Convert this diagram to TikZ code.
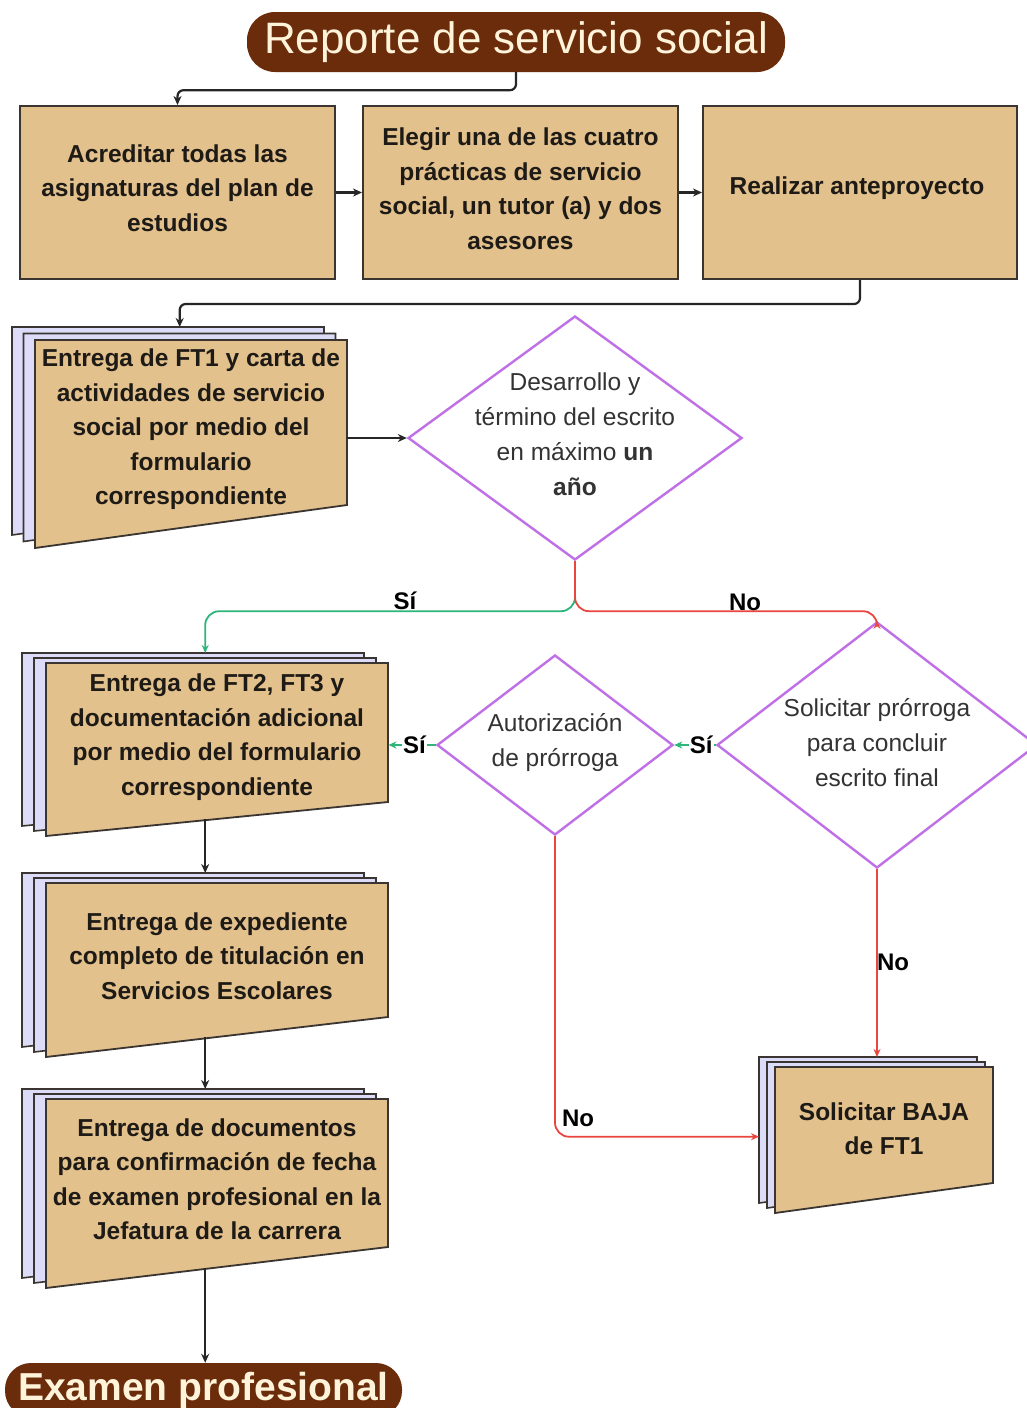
\documentclass[tikz,border=0pt]{standalone}
\usepackage{fontspec}
\setmainfont{Liberation Sans}
\usetikzlibrary{shapes.geometric,arrows.meta}
\definecolor{boxtan}{HTML}{E3C18D}
\definecolor{boxline}{HTML}{3A3530}
\definecolor{doclav}{HTML}{DCDCF8}
\definecolor{txtdark}{HTML}{1E1A16}
\definecolor{txtgray}{HTML}{333333}
\definecolor{decpurple}{HTML}{C070E6}
\definecolor{termbrown}{HTML}{6B2C0B}
\definecolor{termtext}{HTML}{FFF4DA}
\definecolor{yesgreen}{HTML}{2EB57A}
\definecolor{nored}{HTML}{E8463E}
% #1 name, #2 front x, #3 front y, #4 width, #5 height, #6 slant, #7 dx, #8 dy, #9 text
\newcommand{\mdoc}[9]{%
  \path[docback] ({#2-2*#7},{#3-2*#8}) -- ++(#4,0) -- ++(0,{#5-#6}) -- ({#2-2*#7},{#3-2*#8+#5}) -- cycle;
  \path[docback] ({#2-#7},{#3-#8}) -- ++(#4,0) -- ++(0,{#5-#6}) -- ({#2-#7},{#3-#8+#5}) -- cycle;
  \path[docfront] (#2,#3) -- ++(#4,0) -- ++(0,{#5-#6}) -- (#2,{#3+#5}) -- cycle;
  \node[doctext] (#1-t) at ({#2+#4/2},{#3+(#5-#6/2)/2-4}) {#9};
  \node[anchor=north west, inner sep=0, minimum width={(#4+2*#7)*1pt}, minimum height={(#5-#6/2+2*#8)*1pt}] (#1) at ({#2-2*#7},{#3-2*#8}) {};
}
\begin{document}
\begin{tikzpicture}[x=1pt,y=-1pt,
  box/.style={draw=boxline, fill=boxtan, line width=2pt, minimum width=315pt, minimum height=173pt, inner sep=0},
  docback/.style={draw=boxline, fill=doclav, line width=1.6pt},
  docfront/.style={draw=boxline, fill=boxtan, line width=1.8pt},
  doctext/.style={font=\bfseries\fontsize{24.5}{34.5}\selectfont, text=txtdark, align=center, inner sep=0},
  dec/.style={diamond, draw=decpurple, fill=white, line width=2.4pt, inner sep=0},
  dectext/.style={font=\fontsize{24.5}{35}\selectfont, text=txtgray, align=center, inner sep=0},
  term/.style={fill=termbrown, text=termtext, inner sep=0},
  arr/.style={line width=2.2pt, draw=black!85, -{Stealth[length=9pt,width=8pt]}},
  garr/.style={line width=1.8pt, draw=yesgreen, -{Stealth[length=8pt,width=7pt]}},
  rarr/.style={line width=1.8pt, draw=nored, -{Stealth[length=8pt,width=7pt]}},
  lbl/.style={font=\bfseries\fontsize{24}{28}\selectfont, text=black, inner sep=1pt},
]
\useasboundingbox (0,0) rectangle (1026,1408);
\fill[white] (0,0) rectangle (1026,1408);

% terminals
\node[term, minimum width=538pt, minimum height=60pt, rounded corners=28pt, font=\fontsize{44}{50}\selectfont] (title) at (516,42) {Reporte de servicio social};
\node[term, minimum width=397pt, minimum height=54pt, rounded corners=26pt, font=\bfseries\fontsize{39}{44}\selectfont] (exam) at (203.5,1390) {Examen profesional};

% row of boxes
\node[box] (box1) at (177.5,192.5) {};
\node[doctext] (box1-t) at (177.5,188) {Acreditar todas las\\asignaturas del plan de\\estudios};
\node[box] (box2) at (520.5,192.5) {};
\node[doctext] (box2-t) at (520.5,188.5) {Elegir una de las cuatro\\prácticas de servicio\\social, un tutor (a) y dos\\asesores};
\node[box, minimum width=314pt] (box3) at (860,192.5) {};
\node[doctext] (box3-t) at (857,188) {Realizar anteproyecto};

% documents
\mdoc{doc1}{35}{340}{312}{208}{43}{11.5}{6.5}{Entrega de FT1 y carta de\\actividades de servicio\\social por medio del\\formulario\\correspondiente}
\mdoc{doc2}{46}{663}{342}{173}{34}{12}{5}{Entrega de FT2, FT3 y\\documentación adicional\\por medio del formulario\\correspondiente}
\mdoc{doc3}{46}{883}{342}{174}{40}{12}{5}{Entrega de expediente\\completo de titulación en\\Servicios Escolares}
\mdoc{doc5}{46}{1099}{342}{189}{41}{12}{5}{Entrega de documentos\\para confirmación de fecha\\de examen profesional en la\\Jefatura de la carrera}
\mdoc{doc4}{775}{1067}{218}{146}{30}{8}{5}{Solicitar BAJA\\de FT1}

% decisions
\node[dec, minimum width=334pt, minimum height=244pt] (dia1) at (575,438) {};
\node[dectext] (dia1-t) at (575,434) {Desarrollo y\\término del escrito\\en máximo \textbf{un}\\\textbf{año}};
\node[dec, minimum width=320pt, minimum height=246pt] (dia2) at (877,745) {};
\node[dectext] (dia2-t) at (877,743) {Solicitar prórroga\\para concluir\\escrito final};
\node[dec, minimum width=236pt, minimum height=180pt] (dia3) at (555,745) {};
\node[dectext] (dia3-t) at (555,743) {Autorización\\de prórroga};

% connectors
\draw[arr, rounded corners=6pt] (title.south) -- ++(0,18) -| (box1.north);
\draw[arr] (box1.east) -- (box2.west);
\draw[arr] (box2.east) -- (box3.west);
\draw[arr, rounded corners=6pt] (box3.south) -- ++(0,24) -| (doc1.north);
\draw[arr] (dia1.west -| doc1.east) -- (dia1.west);

\coordinate (br) at ([yshift=-50pt]dia1.south);
\draw[garr, rounded corners=14pt] (dia1.south) -- (br) -| (doc2.north);
\draw[rarr] (dia1.south) [rounded corners=14pt] -- (br) -- (br -| dia2.north) [sharp corners] -- (dia2.north);
\node[lbl, anchor=base] (lsi1) at (405,609) {Sí};
\node[lbl, anchor=base] (lno1) at (745,610) {No};

\draw[garr] (dia2.west) -- node[lbl, pos=0.35, fill=white] (lsi2) {Sí} (dia3.east);
\draw[garr] (dia3.west) -- node[lbl, pos=0.45, fill=white] (lsi3) {Sí} (dia3.west -| doc2.east);

\draw[rarr] (dia2.south) -- (dia2.south |- doc4.north);
\node[lbl] (lno2) at (893,962) {No};
\coordinate (d4in) at ([yshift=-9pt]doc4.west);
\draw[rarr, rounded corners=14pt] (dia3.south) |- (d4in);
\node[lbl] (lno3) at (578,1118) {No};

\draw[arr] (doc2.south) -- (doc2.south |- doc3.north);
\draw[arr] (doc3.south) -- (doc3.south |- doc5.north);
\draw[arr] (doc5.south) -- (doc5.south |- exam.north);
\end{tikzpicture}
\end{document}
